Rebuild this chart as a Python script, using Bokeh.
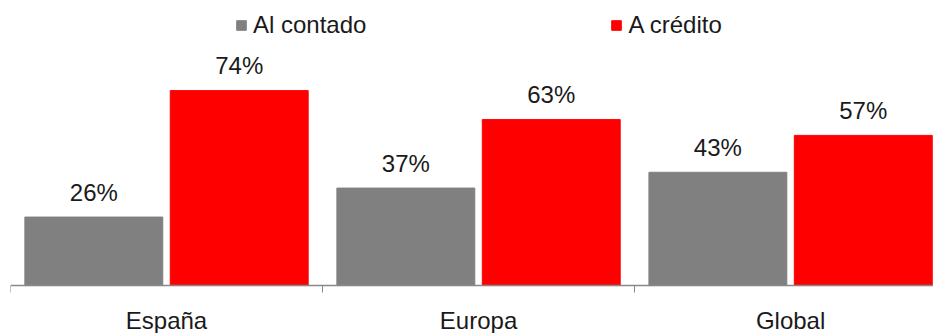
from bokeh.plotting import figure
from bokeh.models import ColumnDataSource, Range1d, FixedTicker, Legend, LegendItem
from bokeh.core.properties import value
from bokeh.embed import file_html
from bokeh.resources import INLINE

categories = ["España", "Europa", "Global"]
contado = [26, 37, 43]
credito = [74, 63, 57]
series_names = ["Al contado", "A crédito"]
colors = ["#808080", "#FF0000"]

FONT = "Liberation Sans"
FS = "24px"
idx = list(range(len(categories)))
bw = 0.442
off = 0.233
x_c = [i + 0.5 - off for i in idx]
x_r = [i + 0.5 + off for i in idx]

src_c = ColumnDataSource(dict(x=x_c, y=contado, lab=[f"{v}%" for v in contado]))
src_r = ColumnDataSource(dict(x=x_r, y=credito, lab=[f"{v}%" for v in credito]))

p = figure(width=933, height=333, output_backend="svg", toolbar_location=None,
           x_range=Range1d(0, 2.958), y_range=Range1d(-18.2, 108.2))
p.min_border_left = 10
p.min_border_right = 0
p.min_border_top = 0
p.min_border_bottom = 0
p.outline_line_color = None
p.background_fill_color = None
p.border_fill_color = "white"
p.xgrid.visible = False
p.ygrid.visible = False
p.yaxis.visible = False

r1 = p.vbar(x="x", top="y", bottom=0, width=bw, source=src_c, color=colors[0])
r2 = p.vbar(x="x", top="y", bottom=0, width=bw, source=src_r, color=colors[1])

for s in (src_c, src_r):
    p.text(x="x", y="y", text="lab", source=s, text_align="center", text_baseline="alphabetic",
           y_offset=-25, text_font=value(FONT), text_font_size=FS, text_color="#1a1a1a")

ax = p.xaxis[0]
ax.fixed_location = 0
ax.ticker = FixedTicker(ticks=[i + 0.5 for i in idx], minor_ticks=[0, 1, 2, 3])
ax.major_label_overrides = {i + 0.5: c for i, c in zip(idx, categories)}
ax.major_tick_line_color = None
ax.major_tick_in = 0
ax.major_tick_out = 7
ax.minor_tick_in = 0
ax.minor_tick_out = 7
ax.minor_tick_line_color = "#888888"
ax.axis_line_color = "#888888"
ax.axis_line_width = 1.5
ax.major_label_standoff = 14
ax.major_label_text_font = FONT
ax.major_label_text_font_size = FS
ax.major_label_text_color = "#1a1a1a"

legend = Legend(items=[LegendItem(label=series_names[0], renderers=[r1]),
                       LegendItem(label=series_names[1], renderers=[r2])],
                orientation="horizontal", location=(225, 294),
                glyph_width=12, glyph_height=12, label_standoff=6, spacing=244,
                padding=0, margin=0, border_line_color=None, background_fill_alpha=0,
                label_text_font=FONT, label_text_font_size=FS, label_text_color="#1a1a1a")
p.add_layout(legend)

open("out.html", "w").write(file_html(p, INLINE))
